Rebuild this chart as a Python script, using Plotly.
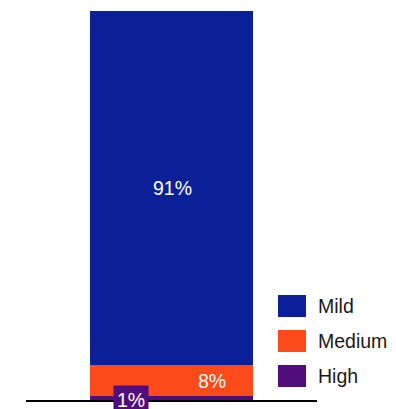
import plotly.graph_objects as go

# Severity shares (percent), stacked bottom to top
categories = ["High", "Medium", "Mild"]
values = [1, 8, 91]
colors = {"Mild": "#0a1f98", "Medium": "#fd4a1b", "High": "#520d7c"}
legend_order = ["Mild", "Medium", "High"]

W, H = 396, 409
ML, MR, MT, MB = 26, 79, 11, 9
plot_w = W - ML - MR
plot_h = H - MT - MB


def px_x(px):
    return (px - ML) / plot_w


def px_y(py):
    return (H - MB - py) / plot_h


FONT = "Liberation Sans"

fig = go.Figure()
for cat, val in zip(categories, values):
    fig.add_trace(go.Bar(
        x=[0.5], y=[val], width=0.557, name=cat,
        marker=dict(color=colors[cat], line=dict(width=0)),
        showlegend=False, hoverinfo="skip",
    ))

# value labels, placed from the stacked values
bottoms = [sum(values[:i]) for i in range(len(values))]
label_x = {"High": 0.361, "Medium": 0.639, "Mild": 0.502}
annotations = []
for cat, val, base in zip(categories, values, bottoms):
    ann = dict(
        x=label_x[cat], y=base + val / 2, xref="x", yref="y",
        text=f"{val}%", showarrow=False,
        font=dict(family=FONT, size=19.5, color="white"),
    )
    if cat == "High":
        ann.update(bgcolor=colors[cat], borderpad=3, yshift=-1.5)
    annotations.append(ann)

# legend: large square swatches with labels
shapes = []
for i, cat in enumerate(legend_order):
    top = 295 + 35 * i
    shapes.append(dict(
        type="rect", xref="paper", yref="paper",
        x0=px_x(278), x1=px_x(306), y0=px_y(top + 22), y1=px_y(top),
        fillcolor=colors[cat], line=dict(width=0),
    ))
    annotations.append(dict(
        x=px_x(315.5), y=px_y(top + 11), xref="paper", yref="paper",
        xanchor="left", yanchor="middle", text=cat, showarrow=False,
        font=dict(family=FONT, size=19.5, color="#1a1a1a"),
    ))

fig.update_layout(
    width=W, height=H,
    margin=dict(l=ML, r=MR, t=MT, b=MB),
    paper_bgcolor="white", plot_bgcolor="white",
    barmode="stack", bargap=0,
    xaxis=dict(range=[0, 1], showgrid=False, zeroline=False,
               showticklabels=False, showline=True, linecolor="black",
               linewidth=2, ticks="", fixedrange=True),
    yaxis=dict(range=[0, 100], visible=False, fixedrange=True),
    annotations=annotations, shapes=shapes,
)

fig.write_html("out.html", config={"displayModeBar": False})
